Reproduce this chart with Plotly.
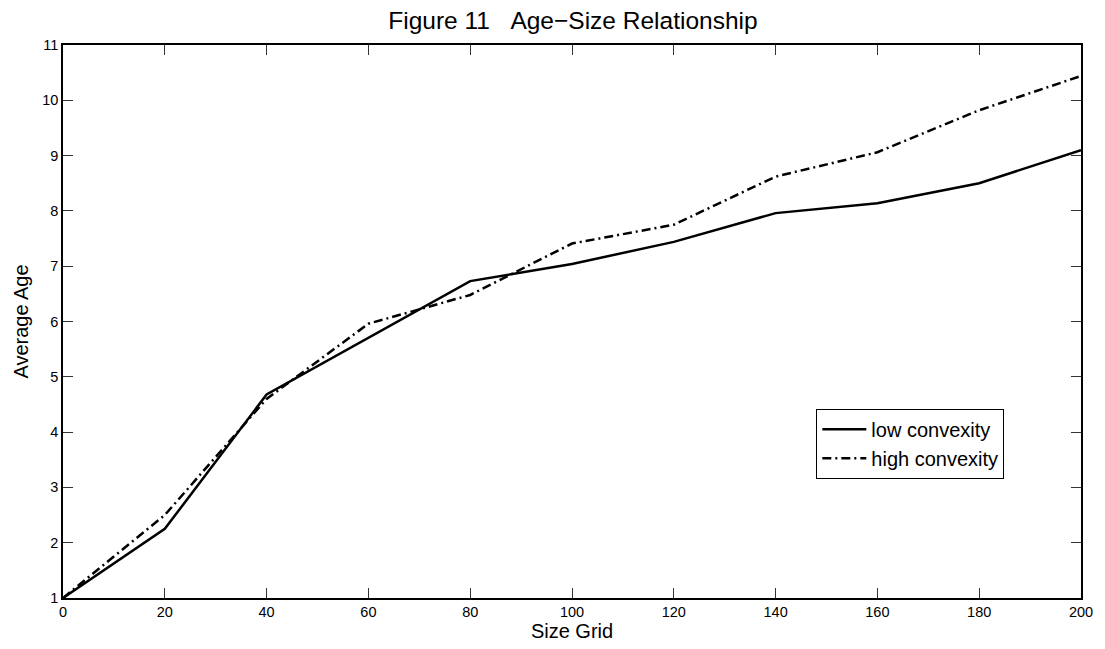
import plotly.graph_objects as go

size_grid = [0, 20, 40, 60, 80, 100, 120, 140, 160, 180, 200]
low_convexity = [1.0, 2.25, 4.68, 5.70, 6.73, 7.04, 7.44, 7.96, 8.14, 8.50, 9.10]
high_convexity = [1.0, 2.50, 4.60, 5.96, 6.48, 7.41, 7.75, 8.62, 9.06, 9.82, 10.44]
x_ticks = list(range(0, 201, 20))
y_ticks = list(range(1, 12))

font_family = "Liberation Sans, Arial, Helvetica, sans-serif"

fig = go.Figure()
fig.add_trace(go.Scatter(x=size_grid, y=low_convexity, mode="lines", name="low convexity",
                         line=dict(color="black", width=2.5)))
fig.add_trace(go.Scatter(x=size_grid, y=high_convexity, mode="lines", name="high convexity",
                         line=dict(color="black", width=2.5, dash="9px,4px,2px,4px")))

axis_common = dict(showgrid=False, zeroline=False, showline=True, linecolor="black", linewidth=1.5,
                   mirror="allticks", ticks="inside", ticklen=10, tickcolor="#333333", tickwidth=1,
                   tickfont=dict(size=14.5, color="black", family=font_family))

fig.update_xaxes(range=[0, 200], tickvals=x_ticks,
                 title=dict(text="Size Grid", font=dict(size=20, color="black", family=font_family), standoff=3),
                 **axis_common)
fig.update_yaxes(range=[1, 11], tickvals=y_ticks,
                 title=dict(text="Average Age", font=dict(size=20, color="black", family=font_family), standoff=8),
                 **axis_common)

fig.update_layout(
    width=1097, height=641,
    margin=dict(l=50, r=20, t=37, b=50),
    plot_bgcolor="white", paper_bgcolor="white",
    title=dict(text="Figure 11\u00a0\u00a0\u00a0Age\u2212Size Relationship", x=0.515, xanchor="center",
               y=0.981, yanchor="middle",
               font=dict(size=24.5, color="black", family=font_family)),
    legend=dict(x=0.74, y=0.342, xanchor="left", yanchor="top", bgcolor="white", bordercolor="black", borderwidth=1,
                font=dict(size=20, color="black", family=font_family), tracegroupgap=0, itemwidth=44),
    showlegend=True,
)

fig.write_html("out.html")
